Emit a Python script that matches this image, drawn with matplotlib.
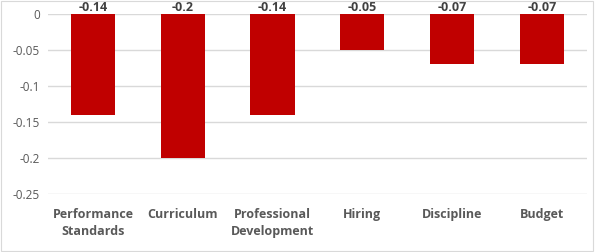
import matplotlib
matplotlib.use("Agg")
import matplotlib.pyplot as plt
from matplotlib.patches import Rectangle

categories = ["Performance\nStandards", "Curriculum", "Professional\nDevelopment",
              "Hiring", "Discipline", "Budget"]
values = [-0.14, -0.2, -0.14, -0.05, -0.07, -0.07]
value_labels = ["-0.14", "-0.2", "-0.14", "-0.05", "-0.07", "-0.07"]
yticks = [0, -0.05, -0.1, -0.15, -0.2, -0.25]
ytick_labels = ["0", "-0.05", "-0.1", "-0.15", "-0.2", "-0.25"]

plt.rcParams["font.family"] = ["Open Sans", "DejaVu Sans"]

fig = plt.figure(figsize=(6, 2.52), dpi=100)
ax = fig.add_axes([0.08, 0.23, 0.898, 0.714])

x = list(range(len(categories)))
ax.bar(x, values, width=0.49, color="#C00000", zorder=3)

ax.set_xlim(-0.5, len(categories) - 0.5)
ax.set_ylim(-0.25, 0)
ax.set_yticks(yticks)
ax.set_yticklabels(ytick_labels, fontsize=8.5, color="#595959")
ax.set_xticks(x)
ax.set_xticklabels(categories, fontsize=9, color="#595959", fontweight="bold",
                   linespacing=1.45)
ax.tick_params(length=0, pad=6)
ax.tick_params(axis="x", pad=10)

ax.grid(axis="y", color="#d9d9d9", linewidth=1, zorder=0)
for s in ax.spines.values():
    s.set_visible(False)

for xi, lab in zip(x, value_labels):
    ax.text(xi, 0.0005, lab, ha="center", va="bottom", fontsize=9,
            fontweight="bold", color="#404040", clip_on=False)

fig.patches.append(Rectangle((0.002, 0.004), 0.986, 0.992, transform=fig.transFigure,
                             fill=False, edgecolor="#d9d9d9", linewidth=0.8))

fig.savefig("out.png", dpi=100)
